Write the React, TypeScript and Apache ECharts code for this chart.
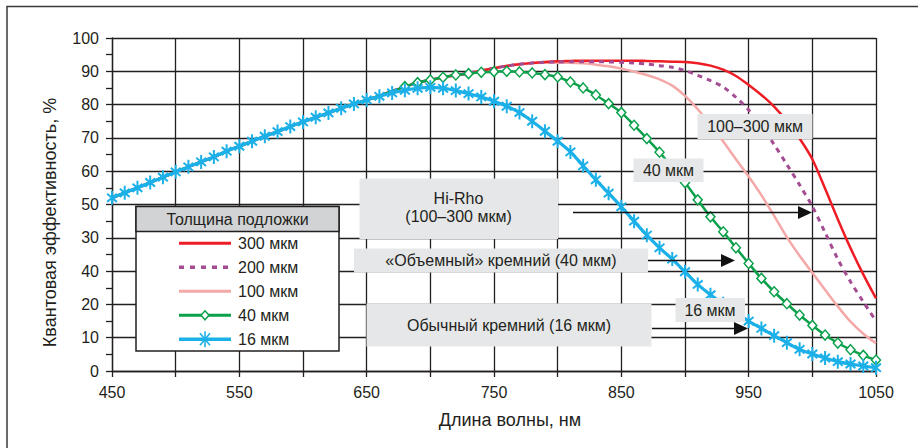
import React, { useEffect, useRef } from "react";
import * as echarts from "echarts";

// ---------- data ----------
const wavelengths = [
  450, 460, 470, 480, 490, 500, 510, 520, 530, 540,
  550, 560, 570, 580, 590, 600, 610, 620, 630, 640,
  650, 660, 670, 680, 690, 700, 710, 720, 730, 740,
  750, 760, 770, 780, 790, 800, 810, 820, 830, 840,
  850, 860, 870, 880, 890, 900, 910, 920, 930, 940,
  950, 960, 970, 980, 990, 1000, 1010, 1020, 1030, 1040,
  1050,
];

const qe16 = [
  52.0, 53.5, 55.0, 56.6, 58.2, 59.8, 61.3, 62.8, 64.3, 66.0,
  67.5, 69.0, 70.5, 71.9, 73.4, 74.8, 76.2, 77.5, 78.9, 80.2,
  81.4, 82.5, 83.5, 84.3, 84.9, 85.2, 84.9, 84.2, 83.3, 82.3,
  81.0, 79.5, 77.6, 75.0, 72.0, 69.0, 65.8, 61.6, 57.4, 53.4,
  49.3, 45.0, 40.8, 37.0, 33.6, 29.8, 26.0, 22.9, 20.2, 17.5,
  15.0, 12.8, 10.6, 8.5, 6.5, 5.1, 3.9, 2.8, 2.1, 1.5,
  1.0,
];

const qe40 = [
  52.0, 53.5, 55.0, 56.6, 58.2, 59.8, 61.3, 62.8, 64.3, 66.0,
  67.5, 69.0, 70.5, 71.9, 73.4, 74.8, 76.2, 77.5, 78.9, 80.2,
  81.4, 82.6, 84.0, 85.4, 86.6, 87.4, 88.2, 88.9, 89.3, 89.7,
  89.9, 90.0, 89.8, 89.5, 89.0, 88.3, 86.8, 85.0, 82.9, 80.3,
  77.6, 73.8, 69.8, 65.7, 61.2, 56.6, 51.4, 46.3, 41.8, 37.0,
  32.3, 27.8, 23.8, 20.2, 16.8, 13.7, 10.8, 8.4, 6.4, 4.7,
  3.3,
];

const qe100 = [
  52.0, 53.5, 55.0, 56.6, 58.2, 59.8, 61.3, 62.8, 64.3, 66.0,
  67.5, 69.0, 70.5, 71.9, 73.4, 74.8, 76.2, 77.5, 78.9, 80.2,
  81.4, 82.6, 84.0, 85.4, 86.6, 87.4, 88.2, 88.9, 89.4, 90.2,
  91.0, 91.7, 92.2, 92.5, 92.6, 92.6, 92.6, 92.4, 92.0, 91.5,
  90.8, 89.9, 88.9, 87.6, 85.7, 82.6, 78.6, 73.9, 68.9, 63.6,
  58.4, 52.8, 46.6, 40.2, 34.6, 29.5, 24.4, 19.4, 14.8, 11.2,
  8.3,
];

const qe200 = [
  52.0, 53.5, 55.0, 56.6, 58.2, 59.8, 61.3, 62.8, 64.3, 66.0,
  67.5, 69.0, 70.5, 71.9, 73.4, 74.8, 76.2, 77.5, 78.9, 80.2,
  81.4, 82.6, 84.0, 85.4, 86.6, 87.4, 88.2, 88.9, 89.4, 90.2,
  90.9, 91.6, 92.1, 92.5, 92.7, 92.8, 92.9, 92.9, 92.9, 92.8,
  92.7, 92.5, 92.2, 91.7, 91.2, 90.2, 88.8, 87.2, 85.3, 82.2,
  78.4, 73.6, 68.0, 62.0, 55.9, 49.4, 41.6, 33.6, 26.8, 20.8,
  15.0,
];

const qe300 = [
  52.0, 53.5, 55.0, 56.6, 58.2, 59.8, 61.3, 62.8, 64.3, 66.0,
  67.5, 69.0, 70.5, 71.9, 73.4, 74.8, 76.2, 77.5, 78.9, 80.2,
  81.4, 82.6, 84.0, 85.4, 86.6, 87.4, 88.2, 88.9, 89.4, 90.2,
  90.9, 91.6, 92.1, 92.5, 92.8, 93.0, 93.1, 93.2, 93.2, 93.2,
  93.2, 93.2, 93.1, 93.0, 92.9, 92.8, 92.4, 91.7, 90.5, 88.6,
  85.9, 82.9, 79.4, 75.0, 69.8, 63.6, 54.8, 45.6, 36.9, 29.0,
  21.8,
];

const xTickLabels = ["450", "550", "650", "750", "850", "950", "1050"];
const yTickLabels = ["0", "10", "20", "40", "30", "50", "60", "70", "80", "90", "100"];

const xTitle = "Длина волны, нм";
const yTitle = "Квантовая эффективность, %";
const legendTitle = "Толщина подложки";
const legendNames = ["300 мкм", "200 мкм", "100 мкм", "40 мкм", "16 мкм"];

const noteHiRho = ["Hi-Rho", "(100–300 мкм)"];
const noteHigh = "100–300 мкм";
const note40 = "40 мкм";
const noteBulk = "«Объемный» кремний (40 мкм)";
const noteStd = "Обычный кремний (16 мкм)";
const note16 = "16 мкм";

// ---------- styles ----------
const FONT = '"Liberation Sans", Arial, Helvetica, sans-serif';
const TXT = "#231f20";
const RED = "#ee1d25";
const PURPLE = "#a44d93";
const PINK = "#f5a8a8";
const GREEN = "#0ba14b";
const BLUE = "#1cb0e8";
const BOX = "#e6e7e8";

const STAR =
  "path://M4.1,0H5.9V12H4.1Z M0.05,3.2L1.15,1.8L9.95,8.8L8.85,10.2Z M0.05,8.8L8.85,1.8L9.95,3.2L1.15,10.2Z";

function txt(text: string, x: number, y: number, extra: any = {}) {
  return {
    type: "text",
    x,
    y,
    z: 20,
    silent: true,
    style: {
      text,
      fill: TXT,
      fontSize: 16,
      fontFamily: FONT,
      align: "center",
      verticalAlign: "middle",
      textAlign: "center",
      textVerticalAlign: "middle",
      ...extra,
    },
  };
}

function box(x: number, y: number, w: number, h: number, z = 15) {
  return {
    type: "rect",
    z,
    silent: true,
    shape: { x, y, width: w, height: h },
    style: { fill: BOX },
  };
}

function arrow(x1: number, x2: number, y: number) {
  return [
    {
      type: "line",
      z: 18,
      silent: true,
      shape: { x1, y1: y, x2: x2 - 10, y2: y },
      style: { stroke: "#111", lineWidth: 1.3 },
    },
    {
      type: "polygon",
      z: 18,
      silent: true,
      shape: { points: [[x2, y], [x2 - 14, y - 6.5], [x2 - 14, y + 6.5]] },
      style: { fill: "#111" },
    },
  ];
}

export default function App() {
  const ref = useRef<HTMLDivElement>(null);

  useEffect(() => {
    document.body.style.margin = "0";
    const chart = echarts.init(ref.current!, null, { renderer: "svg" });

    const pairs = (ys: number[]) => wavelengths.map((x, i) => [x, ys[i]]);

    // ----- legend (custom box) -----
    const lgX = 136, lgY = 206.5, lgW = 203, lgH = 144.5, hdrH = 25;
    const lineX1 = 179, lineX2 = 231, textX = 238;
    const rowY = (i: number) => 243.3 + 24 * i;
    const legendStyles = [
      { stroke: RED, lineWidth: 3 },
      { stroke: PURPLE, lineWidth: 3.5, lineDash: [5, 6] },
      { stroke: PINK, lineWidth: 3 },
      { stroke: GREEN, lineWidth: 3 },
      { stroke: BLUE, lineWidth: 3.5 },
    ];
    const legendEls: any[] = [
      {
        type: "rect",
        z: 5,
        silent: true,
        shape: { x: lgX, y: lgY, width: lgW, height: lgH },
        style: { fill: "#fff", stroke: TXT, lineWidth: 1.5 },
      },
      {
        type: "rect",
        z: 6,
        silent: true,
        shape: { x: lgX, y: lgY, width: lgW, height: hdrH },
        style: { fill: "#d1d3d4", stroke: TXT, lineWidth: 1.5 },
      },
      txt(legendTitle, lgX + lgW / 2, lgY + hdrH / 2 + 0.5),
    ];
    legendNames.forEach((name, i) => {
      const y = rowY(i);
      legendEls.push({
        type: "line",
        z: 7,
        silent: true,
        shape: { x1: lineX1, y1: y, x2: lineX2, y2: y },
        style: legendStyles[i],
      });
      legendEls.push(txt(name, textX, y, { align: "left", textAlign: "left" }));
    });
    const cx = (lineX1 + lineX2) / 2;
    legendEls.push({
      type: "polygon",
      z: 8,
      silent: true,
      shape: { points: [[cx, rowY(3) - 4.5], [cx + 4, rowY(3)], [cx, rowY(3) + 4.5], [cx - 4, rowY(3)]] },
      style: { fill: "#fff", stroke: GREEN, lineWidth: 1.5 },
    });
    const sy = rowY(4);
    [
      [cx, sy - 8, cx, sy + 8],
      [cx - 5, sy - 6, cx + 5, sy + 6],
      [cx - 5, sy + 6, cx + 5, sy - 6],
    ].forEach(([x1, y1, x2, y2]) =>
      legendEls.push({
        type: "line",
        z: 8,
        silent: true,
        shape: { x1, y1, x2, y2 },
        style: { stroke: BLUE, lineWidth: 1.6 },
      })
    );

    // ----- annotations -----
    const notes: any[] = [
      box(359.5, 178.5, 198.5, 60.5),
      txt(noteHiRho[0], 458.5, 198.5),
      txt(noteHiRho[1], 458.5, 216.5),
      box(697.5, 114, 115, 25),
      txt(noteHigh, 755, 126.5),
      box(633.5, 158.5, 70, 23.5),
      txt(note40, 668.5, 170.5),
      box(354, 248.5, 294, 24),
      txt(noteBulk, 501, 260.5),
      box(366.5, 303.5, 285, 43),
      txt(noteStd, 509, 325),
      box(675.5, 298, 69.5, 24),
      txt(note16, 710, 310),
      ...arrow(573, 812, 212.5),
      ...arrow(648, 735, 260.5),
      ...arrow(652, 748, 328.5),
    ];

    const frame = {
      type: "rect",
      z: 1,
      silent: true,
      shape: { x: 7, y: 6.5, width: 1000, height: 1000 },
      style: { fill: "none", stroke: "#3a3a3a", lineWidth: 1.5 },
    };

    const titles = [
      txt(xTitle, 510, 420, { fontSize: 18 }),
      { ...txt(yTitle, 50, 222.5, { fontSize: 18 }), rotation: Math.PI / 2 },
    ];

    const option: any = {
      animation: false,
      backgroundColor: "#fff",
      textStyle: { fontFamily: FONT },
      grid: { left: 112, right: 42, top: 38, bottom: 77, containLabel: false, outerBoundsMode: "none" },
      xAxis: {
        type: "value",
        min: 450,
        max: 1050,
        interval: 50,
        axisLine: { show: true, lineStyle: { color: TXT, width: 1.3 } },
        axisTick: { show: true, length: 6, lineStyle: { color: TXT, width: 1.3 } },
        splitLine: { show: true, lineStyle: { color: TXT, width: 1.3 } },
        axisLabel: {
          color: TXT,
          fontSize: 16,
          fontFamily: FONT,
          margin: 13,
          showMinLabel: true,
          showMaxLabel: true,
          formatter: (v: number) => (xTickLabels.includes(String(v)) ? String(v) : ""),
        },
      },
      yAxis: {
        type: "value",
        min: 0,
        max: 100,
        interval: 10,
        axisLine: { show: true, lineStyle: { color: TXT, width: 1.3 } },
        axisTick: { show: true, length: 6, lineStyle: { color: TXT, width: 1.3 } },
        minorTick: { show: true, splitNumber: 2, length: 6, lineStyle: { color: TXT, width: 1.3 } },
        splitLine: { show: true, lineStyle: { color: TXT, width: 1.3 } },
        axisLabel: {
          color: TXT,
          fontSize: 16,
          fontFamily: FONT,
          margin: 13,
          formatter: (v: number) => yTickLabels[Math.round(v / 10)] ?? "",
        },
      },
      series: [
        {
          type: "line",
          name: legendNames[2],
          data: pairs(qe100),
          symbol: "none",
          smooth: 0.3,
          silent: true,
          z: 2,
          lineStyle: { color: PINK, width: 2.5 },
        },
        {
          type: "line",
          name: legendNames[0],
          data: pairs(qe300),
          symbol: "none",
          smooth: 0.3,
          silent: true,
          z: 2,
          lineStyle: { color: RED, width: 2.5 },
        },
        {
          type: "line",
          name: legendNames[1],
          data: pairs(qe200),
          symbol: "none",
          smooth: 0.3,
          silent: true,
          z: 2,
          lineStyle: { color: PURPLE, width: 3, type: [5, 5] },
        },
        {
          type: "line",
          name: legendNames[3],
          data: wavelengths.map((x, i) => ({
            value: [x, qe40[i]],
            symbol: x >= 680 ? "diamond" : "none",
          })),
          symbol: "diamond",
          symbolSize: [9, 10],
          showSymbol: true,
          smooth: 0.3,
          silent: true,
          z: 3,
          itemStyle: { color: "#fff", borderColor: GREEN, borderWidth: 1.5 },
          lineStyle: { color: GREEN, width: 2.5 },
        },
        {
          type: "line",
          name: legendNames[4],
          data: pairs(qe16),
          symbol: STAR,
          symbolSize: [11, 14],
          showSymbol: true,
          smooth: 0.3,
          silent: true,
          z: 4,
          itemStyle: { color: BLUE },
          lineStyle: { color: BLUE, width: 3.2 },
        },
      ],
      graphic: { elements: [frame, ...titles, ...legendEls, ...notes] },
    };

    chart.setOption(option);
    return () => chart.dispose();
  }, []);

  return <div ref={ref} style={{ width: 918, height: 448 }} />;
}
